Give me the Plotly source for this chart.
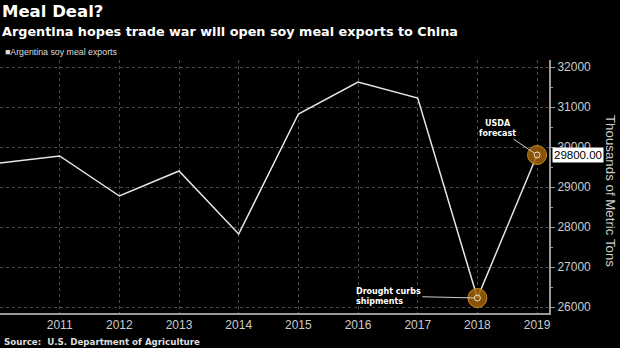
import plotly.graph_objects as go

years = [2010, 2011, 2012, 2013, 2014, 2015, 2016, 2017, 2018, 2019]
exports = [29600, 29775, 28775, 29400, 27825, 30825, 31625, 31225, 26225, 29800]
highlight_years = [2018, 2019]
highlight_vals = [26225, 29800]
x_ticks = [2011, 2012, 2013, 2014, 2015, 2016, 2017, 2018, 2019]
y_ticks = [26000, 27000, 28000, 29000, 30000, 31000, 32000]

W, H = 620, 348
L, R, T, B = 0, 71, 60, 35
ph = H - T - B
pw = W - L - R

def py(pix):
    return (H - B - pix) / ph

def px(pix):
    return (pix - L) / pw

fig = go.Figure()
fig.add_trace(go.Scatter(x=years, y=exports, mode="lines",
                         line=dict(color="#e6e6e6", width=1.5),
                         hoverinfo="skip", showlegend=False))
fig.add_trace(go.Scatter(x=highlight_years, y=highlight_vals, mode="markers",
                         marker=dict(size=19, color="rgba(160,98,10,0.85)",
                                     line=dict(color="#c98a1a", width=1)),
                         hoverinfo="skip", showlegend=False))
fig.add_trace(go.Scatter(x=highlight_years, y=highlight_vals, mode="markers",
                         marker=dict(size=6, color="rgba(0,0,0,0)",
                                     line=dict(color="#f0e0c0", width=1)),
                         hoverinfo="skip", showlegend=False))

ann = []
ann.append(dict(xref="paper", yref="paper", x=0.0, y=py(12), xanchor="left", yanchor="middle",
                text="<b>Meal Deal?</b>", showarrow=False,
                font=dict(family="DejaVu Sans", size=16.5, color="white")))
ann.append(dict(xref="paper", yref="paper", x=0.0, y=py(32), xanchor="left", yanchor="middle",
                text="<b>Argentina hopes trade war will open soy meal exports to China</b>", showarrow=False,
                font=dict(family="DejaVu Sans", size=12.8, color="white")))
ann.append(dict(xref="paper", yref="paper", x=0.005, y=py(52), xanchor="left", yanchor="middle",
                text="■Argentina soy meal exports", showarrow=False,
                font=dict(family="Liberation Sans", size=8.8, color="#dddddd")))
ann.append(dict(xref="paper", yref="paper", x=0.003, y=py(342), xanchor="left", yanchor="middle",
                text="<b>Source:  U.S. Department of Agriculture</b>", showarrow=False,
                font=dict(family="DejaVu Sans", size=8.7, color="#dddddd")))
ann.append(dict(x=highlight_years[0], y=highlight_vals[0], xref="x", yref="y",
                text="<b>Drought curbs<br>shipments</b>", align="left",
                showarrow=True, arrowhead=0, arrowwidth=1, arrowcolor="#cccccc",
                axref="pixel", ayref="pixel", ax=-89, ay=-2, standoff=3,
                font=dict(family="DejaVu Sans", size=8, color="white")))
ann.append(dict(x=highlight_years[1], y=highlight_vals[1], xref="x", yref="y",
                text="<b>USDA<br>forecast</b>", align="center",
                showarrow=True, arrowhead=0, arrowwidth=1, arrowcolor="#cccccc",
                axref="pixel", ayref="pixel", ax=-40, ay=-27, standoff=3,
                font=dict(family="DejaVu Sans", size=8, color="white")))
ann.append(dict(xref="paper", yref="y", x=1, y=highlight_vals[1], xanchor="left", yanchor="middle",
                xshift=3, text="29800.00", showarrow=False, bgcolor="white", borderpad=1,
                font=dict(family="Liberation Sans", size=11.5, color="black")))
ann.append(dict(xref="paper", yref="paper", x=px(611), y=py(191), xanchor="center", yanchor="middle",
                text="Thousands of Metric Tons", textangle=90, showarrow=False,
                font=dict(family="Liberation Sans", size=13.3, color="#cccccc")))

fig.update_layout(
    width=W, height=H, margin=dict(l=L, r=R, t=T, b=B),
    paper_bgcolor="black", plot_bgcolor="black",
    annotations=ann,
    xaxis=dict(range=[2010, 2019.2], tickvals=x_ticks, ticktext=[str(v) for v in x_ticks],
               showgrid=True, gridcolor="#4a4a4a", griddash="dot", gridwidth=1,
               showline=True, linecolor="#999999", linewidth=2, zeroline=False,
               ticks="", tickfont=dict(family="Liberation Sans", size=12, color="#cccccc")),
    yaxis=dict(range=[25850, 32175], side="right", tickvals=y_ticks,
               ticktext=[str(v) for v in y_ticks],
               showgrid=True, gridcolor="#4a4a4a", griddash="dot", gridwidth=1,
               showline=True, linecolor="#999999", linewidth=2, zeroline=False,
               ticks="outside", ticklen=4, tickcolor="#999999",
               minor=dict(dtick=500, ticks="outside", ticklen=2, tickcolor="#999999", showgrid=False),
               tickfont=dict(family="Liberation Sans", size=12, color="#cccccc")),
)
fig.write_html("out.html")
